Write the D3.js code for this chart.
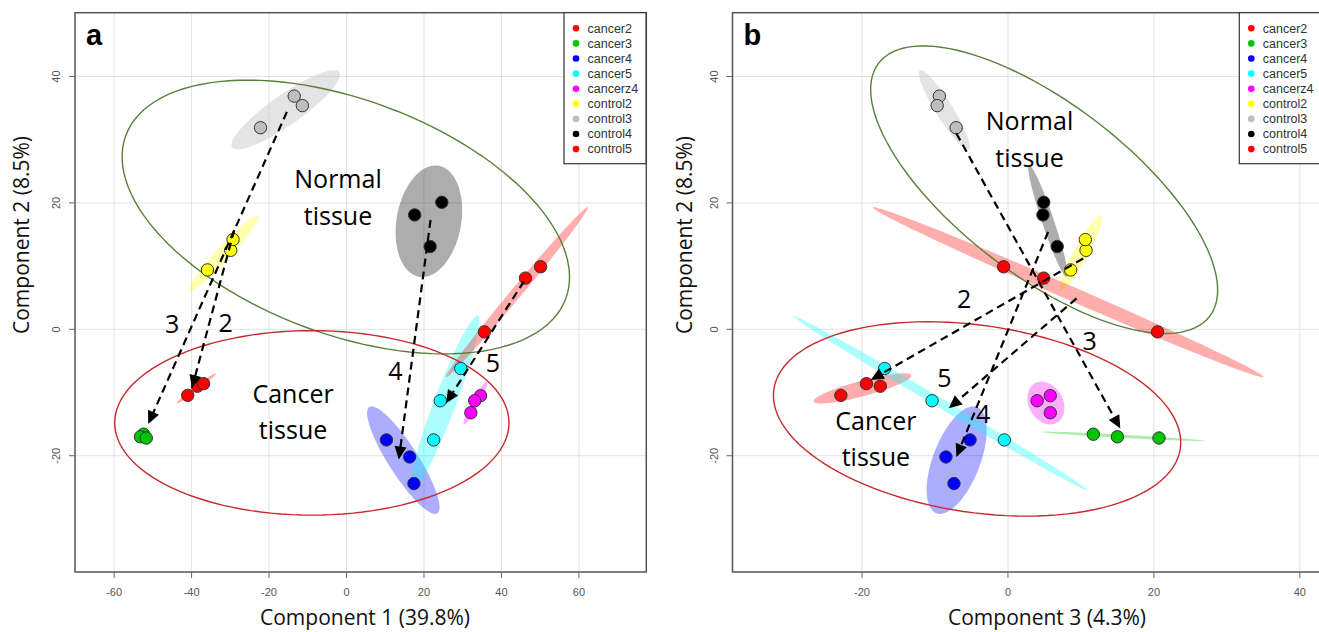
<!DOCTYPE html>
<html>
<head>
<meta charset="utf-8">
<script src="https://cdn.jsdelivr.net/npm/d3@7"></script>
<style>
  body { margin: 0; background: #fff; }
  svg { display: block; }
</style>
</head>
<body>
<div id="chart"></div>
<script>
// Sample groups (legend order)
const groups = ['cancer2', 'cancer3', 'cancer4', 'cancer5', 'cancerz4', 'control2', 'control3', 'control4', 'control5'];

// One entry per sample, three replicates per group
const sampleGroup = [
  'cancer2', 'cancer2', 'cancer2',
  'cancer3', 'cancer3', 'cancer3',
  'cancer4', 'cancer4', 'cancer4',
  'cancer5', 'cancer5', 'cancer5',
  'cancerz4', 'cancerz4', 'cancerz4',
  'control2', 'control2', 'control2',
  'control3', 'control3', 'control3',
  'control4', 'control4', 'control4',
  'control5', 'control5', 'control5'
];
const comp1 = [
  -41.0, -38.5, -36.9,
  -52.4, -53.2, -51.7,
  10.3, 16.3, 17.4,
  29.5, 24.2, 22.5,
  34.6, 33.1, 32.1,
  -35.9, -29.9, -29.3,
  -22.2, -13.5, -11.4,
  17.6, 24.6, 21.6,
  46.2, 50.1, 35.6
];
const comp2 = [
  -10.45, -9.0, -8.6,
  -16.6, -17.0, -17.2,
  -17.5, -20.2, -24.4,
  -6.2, -11.3, -17.5,
  -10.5, -11.3, -13.2,
  9.4, 12.5, 14.2,
  31.9, 36.9, 35.4,
  18.1, 20.1, 13.1,
  8.1, 9.9, -0.4
];
const comp3 = [
  -22.9, -17.5, -19.4,
  11.7, 15.0, 20.7,
  -5.2, -8.5, -7.4,
  -16.9, -10.4, -0.5,
  5.8, 4.0, 5.8,
  8.6, 10.7, 10.6,
  -7.1, -9.4, -9.7,
  4.8, 4.9, 6.75,
  4.9, -0.6, 20.5
];

// Axis ticks
const ticksC1 = [-60, -40, -20, 0, 20, 40, 60];
const ticksC3 = [-20, 0, 20, 40];
const ticksC2 = [-20, 0, 20, 40];

// Hand drawn tissue regions (centre and two semi-axis vectors, data units)
const regionLines = [['Normal', 'tissue'], ['Cancer', 'tissue']];
const regionCentreA = [[-0.18, 17.77], [-8.95, -14.8]];
const regionAxisUA = [[56.8, -12.9], [50.9, 0]];
const regionAxisVA = [[-10.5, -17.4], [0, 14.6]];
const regionTextA = [[-2.2, 22.4, 16.5], [-13.8, -11.7, -17.4]];
const regionCentreB = [[4.96, 22.09], [-4.23, -14.18]];
const regionAxisUB = [[22.68, -20.03], [27.85, -4.70]];
const regionAxisVB = [[-7.14, -10.79], [-1.85, -14.64]];
const regionTextB = [[2.95, 31.5, 25.7], [-18.1, -16.0, -21.7]];

// Control -> cancer arrows
const arrowLabels = ['2', '3', '4', '5'];
const arrowFromA = [[-29.0, 15.7], [-15.4, 34.4], [21.7, 17.3], [45.8, 7.6]];
const arrowToA = [[-39.9, -9.3], [-51.2, -15.0], [13.5, -20.6], [25.7, -11.7]];
const arrowTextA = [[-31.2, -0.4], [-45.0, -0.6], [12.6, -8.0], [37.8, -6.7]];
const arrowFromB = [[10.3, 11.2], [-7.07, 31.0], [5.5, 15.4], [9.4, 4.9]];
const arrowToB = [[-18.8, -8.0], [15.4, -15.7], [-7.07, -20.2], [-8.1, -12.5]];
const arrowTextB = [[-6.0, 3.3], [11.2, -3.3], [-3.4, -14.9], [-8.7, -9.1]];

const color = d3.scaleOrdinal()
    .domain(groups)
    .range(['#ff0000', '#00c400', '#0000ff', '#00ffff', '#ff00ff', '#ffff00', '#bebebe', '#000000', '#ff0000']);

const W = 1319, H = 632;
const svg = d3.select('#chart').append('svg')
    .attr('width', W)
    .attr('height', H)
    .style('font-family', 'Liberation Sans, Arial, sans-serif');

const sansText = '"Open Sans", "Noto Sans", sans-serif';
const chiLevel = Math.sqrt(5.991); // 95% normal ellipse

// Parametric ellipse path from centre and two semi-axis vectors
function ellipsePath(c, u, v, xs, ys) {
    const pts = d3.range(120).map(i => {
        const t = 2 * Math.PI * i / 120;
        return [xs(c[0] + u[0] * Math.cos(t) + v[0] * Math.sin(t)),
                ys(c[1] + u[1] * Math.cos(t) + v[1] * Math.sin(t))];
    });
    return d3.line().curve(d3.curveLinearClosed)(pts);
}

// Confidence ellipse of one group (covariance + cholesky)
function groupEllipse(xv, yv) {
    const n = xv.length;
    const mx = d3.mean(xv), my = d3.mean(yv);
    let sxx = 0, syy = 0, sxy = 0;
    for (let i = 0; i < n; i++) {
        sxx += (xv[i] - mx) ** 2;
        syy += (yv[i] - my) ** 2;
        sxy += (xv[i] - mx) * (yv[i] - my);
    }
    sxx /= n - 1; syy /= n - 1; sxy /= n - 1;
    const l11 = Math.sqrt(sxx);
    const l21 = sxy / l11;
    const l22 = Math.sqrt(Math.max(syy - l21 * l21, 0));
    return {
        c: [mx, my],
        u: [chiLevel * l11, chiLevel * l21],
        v: [0, chiLevel * l22]
    };
}

function drawPanel(cfg) {
    const x = d3.scaleLinear().domain(cfg.xDomain).range([cfg.left, cfg.right]);
    const y = d3.scaleLinear().domain([-38.4, 50.1]).range([572, 12.7]);
    const g = svg.append('g');

    g.append('clipPath').attr('id', 'clip-' + cfg.id)
        .append('rect')
        .attr('x', cfg.left).attr('y', 12.7)
        .attr('width', cfg.right - cfg.left).attr('height', 572 - 12.7);

    const plot = g.append('g').attr('clip-path', `url(#clip-${cfg.id})`);

    // grid
    plot.selectAll('.gx').data(cfg.xTicks).join('line')
        .attr('x1', d => x(d)).attr('x2', d => x(d))
        .attr('y1', 12.7).attr('y2', 572)
        .attr('stroke', '#e3e3e3').attr('stroke-width', 1);
    plot.selectAll('.gy').data(ticksC2).join('line')
        .attr('y1', d => y(d)).attr('y2', d => y(d))
        .attr('x1', cfg.left).attr('x2', cfg.right)
        .attr('stroke', '#e3e3e3').attr('stroke-width', 1);

    // group confidence ellipses
    const samples = sampleGroup.map((grp, i) => ({ grp, x: cfg.xs[i], y: comp2[i] }));
    const ells = groups.map(grp => {
        const s = samples.filter(d => d.grp === grp);
        return Object.assign({ grp }, groupEllipse(s.map(d => d.x), s.map(d => d.y)));
    });
    plot.selectAll('.ell').data(ells).join('path')
        .attr('d', e => ellipsePath(e.c, e.u, e.v, x, y))
        .attr('fill', e => color(e.grp))
        .attr('fill-opacity', e => e.grp === 'control3' ? 0.42 : 0.32)
        .attr('stroke', 'none');

    // tissue regions
    const regionStroke = ['#58803a', '#c42a2f'];
    plot.selectAll('.region').data(regionLines).join('path')
        .attr('d', (d, i) => ellipsePath(cfg.regionCentre[i], cfg.regionU[i], cfg.regionV[i], x, y))
        .attr('fill', 'none')
        .attr('stroke', (d, i) => regionStroke[i])
        .attr('stroke-width', 1.4);

    // points
    plot.selectAll('.pt').data(samples).join('circle')
        .attr('cx', d => x(d.x)).attr('cy', d => y(d.y))
        .attr('r', 6.2)
        .attr('fill', d => color(d.grp))
        .attr('stroke', '#333').attr('stroke-width', 1);

    // arrows
    const arrows = arrowLabels.map((lab, i) => ({
        lab,
        x1: x(cfg.arrowFrom[i][0]), y1: y(cfg.arrowFrom[i][1]),
        x2: x(cfg.arrowTo[i][0]), y2: y(cfg.arrowTo[i][1])
    }));
    const headLen = 13, headHalf = 6;
    arrows.forEach(a => {
        const dx = a.x2 - a.x1, dy = a.y2 - a.y1;
        const len = Math.hypot(dx, dy);
        const ux = dx / len, uy = dy / len;
        const bx = a.x2 - ux * headLen, by = a.y2 - uy * headLen;
        plot.append('line')
            .attr('x1', a.x1).attr('y1', a.y1)
            .attr('x2', bx + ux * 2).attr('y2', by + uy * 2)
            .attr('stroke', '#000').attr('stroke-width', 2.2)
            .attr('stroke-dasharray', '8,5');
        plot.append('path')
            .attr('d', `M${a.x2},${a.y2}L${bx - uy * headHalf},${by + ux * headHalf}L${bx + uy * headHalf},${by - ux * headHalf}Z`)
            .attr('fill', '#000');
    });

    // arrow numbers
    plot.selectAll('.num').data(arrowLabels).join('text')
        .attr('x', (d, i) => x(cfg.arrowText[i][0]))
        .attr('y', (d, i) => y(cfg.arrowText[i][1]))
        .attr('text-anchor', 'middle')
        .style('font-family', sansText)
        .style('font-size', '25px')
        .attr('fill', '#000')
        .text(d => d);

    // region captions
    regionLines.forEach((lines, i) => {
        lines.forEach((t, j) => {
            plot.append('text')
                .attr('x', x(cfg.regionText[i][0]))
                .attr('y', y(cfg.regionText[i][1 + j]))
                .attr('text-anchor', 'middle')
                .style('font-family', sansText)
                .style('font-size', '25px')
                .attr('fill', '#000')
                .text(t);
        });
    });

    // box
    g.append('rect')
        .attr('x', cfg.left).attr('y', 12.7)
        .attr('width', cfg.right - cfg.left).attr('height', 572 - 12.7)
        .attr('fill', 'none').attr('stroke', '#555').attr('stroke-width', 1.5);

    // x ticks
    g.selectAll('.xt').data(cfg.xTicks).join('line')
        .attr('x1', d => x(d)).attr('x2', d => x(d))
        .attr('y1', 572).attr('y2', 578)
        .attr('stroke', '#666');
    g.selectAll('.xl').data(cfg.xTicks).join('text')
        .attr('x', d => x(d)).attr('y', 596)
        .attr('text-anchor', 'middle')
        .style('font-size', '11px').attr('fill', '#555')
        .text(d => d);

    // y ticks
    g.selectAll('.yt').data(ticksC2).join('line')
        .attr('x1', cfg.left - 6).attr('x2', cfg.left)
        .attr('y1', d => y(d)).attr('y2', d => y(d))
        .attr('stroke', '#666');
    g.selectAll('.yl').data(ticksC2).join('text')
        .attr('transform', d => `translate(${cfg.left - 15},${y(d)}) rotate(-90)`)
        .attr('text-anchor', 'middle')
        .style('font-size', '11px').attr('fill', '#555')
        .text(d => d);

    // axis titles
    g.append('text')
        .attr('x', cfg.titleX).attr('y', 625)
        .attr('text-anchor', 'middle')
        .style('font-family', sansText).style('font-size', '21px')
        .attr('fill', '#111')
        .text(cfg.xTitle);
    g.append('text')
        .attr('transform', `translate(${cfg.yTitleX},235) rotate(-90)`)
        .attr('text-anchor', 'middle')
        .style('font-family', sansText).style('font-size', '21px')
        .attr('fill', '#111')
        .text('Component 2 (8.5%)');

    // panel letter
    g.append('text')
        .attr('x', cfg.left + 11).attr('y', 45)
        .style('font-size', '29px').style('font-weight', 'bold')
        .attr('fill', '#000')
        .text(cfg.id);

    // legend
    const lg = g.append('g').attr('transform', `translate(${cfg.legendX},12.7)`);
    lg.append('rect')
        .attr('width', 82).attr('height', 151)
        .attr('fill', '#fff').attr('stroke', '#333').attr('stroke-width', 1.2);
    const rows = lg.selectAll('.lr').data(groups).join('g')
        .attr('transform', (d, i) => `translate(0,${15.6 + i * 15.1})`);
    rows.append('circle')
        .attr('cx', 12).attr('r', 3.3)
        .attr('fill', d => color(d));
    rows.append('text')
        .attr('x', 23.5).attr('dy', '0.35em')
        .style('font-size', '12.5px').attr('fill', '#333')
        .text(d => d);
}

drawPanel({
    id: 'a', left: 75, right: 646.3, xDomain: [-70.1, 77.4],
    xTicks: ticksC1, xs: comp1,
    regionCentre: regionCentreA, regionU: regionAxisUA, regionV: regionAxisVA, regionText: regionTextA,
    arrowFrom: arrowFromA, arrowTo: arrowToA, arrowText: arrowTextA,
    xTitle: 'Component 1 (39.8%)', titleX: 365, yTitleX: 29, legendX: 564
});

drawPanel({
    id: 'b', left: 732.5, right: 1321, xDomain: [-37.75, 42.9],
    xTicks: ticksC3, xs: comp3,
    regionCentre: regionCentreB, regionU: regionAxisUB, regionV: regionAxisVB, regionText: regionTextB,
    arrowFrom: arrowFromB, arrowTo: arrowToB, arrowText: arrowTextB,
    xTitle: 'Component 3 (4.3%)', titleX: 1047, yTitleX: 692, legendX: 1239.3
});
</script>
</body>
</html>
